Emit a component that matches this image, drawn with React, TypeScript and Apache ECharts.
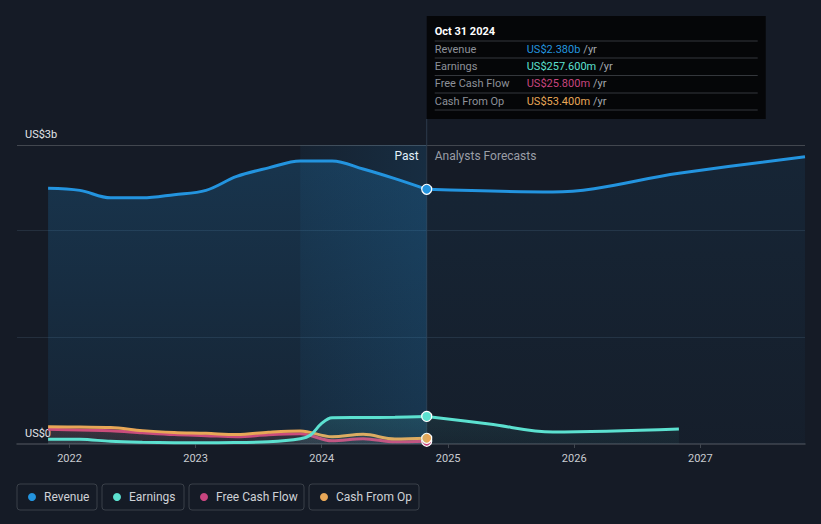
import React, { useEffect, useRef } from 'react';
import * as echarts from 'echarts';

// ---- data (US$ billions) ----
const pastDates = ['2021-10-31', '2022-01-31', '2022-04-30', '2022-07-31', '2022-10-31', '2023-01-31', '2023-04-30', '2023-07-31', '2023-10-31', '2024-01-31', '2024-04-30', '2024-07-31', '2024-10-31'];
const revenuePast = [2.39, 2.37, 2.3, 2.3, 2.33, 2.37, 2.5, 2.58, 2.645, 2.645, 2.57, 2.48, 2.38];
const fcfPast = [0.137, 0.13, 0.124, 0.105, 0.088, 0.078, 0.068, 0.087, 0.096, 0.03, 0.05, 0.02, 0.0258];
const cfoPast = [0.162, 0.158, 0.154, 0.125, 0.108, 0.1, 0.088, 0.11, 0.122, 0.068, 0.09, 0.047, 0.0534];
const earnPastDates = ['2021-10-31', '2022-01-31', '2022-04-30', '2022-07-31', '2022-10-31', '2023-01-31', '2023-04-30', '2023-07-31', '2023-10-31', '2023-11-30', '2023-12-31', '2024-01-31', '2024-04-30', '2024-07-31', '2024-10-31'];
const earningsPast = [0.045, 0.044, 0.025, 0.016, 0.012, 0.011, 0.014, 0.02, 0.05, 0.085, 0.19, 0.245, 0.247, 0.25, 0.2576];
const revForecastDates = ['2024-10-31', '2025-10-31', '2026-10-31', '2027-10-31'];
const revenueForecast = [2.38, 2.355, 2.53, 2.685];
const earnForecastDates = ['2024-10-31', '2025-04-30', '2025-10-31', '2026-10-31'];
const earningsForecast = [0.2576, 0.187, 0.112, 0.14];
const highlightRange = ['2023-10-31', '2024-10-31'];
const xRange = ['2021-08-02', '2027-10-31'];
const yMax = 2.794;
const yLabelTop = 'US$3b';
const yLabelZero = 'US$0';
const tooltipDate = 'Oct 31 2024';
const tooltipLabels = ['Revenue', 'Earnings', 'Free Cash Flow', 'Cash From Op'];
const tooltipValues = ['US$2.380b', 'US$257.600m', 'US$25.800m', 'US$53.400m'];
const legendNames = ['Revenue', 'Earnings', 'Free Cash Flow', 'Cash From Op'];

const C_REV = '#2394df';
const C_EARN = '#5ce1d0';
const C_FCF = '#c8457f';
const C_CFO = '#e8a757';
const colors = [C_REV, C_EARN, C_FCF, C_CFO];

function rgba(hex: string, a: number) {
  const n = parseInt(hex.slice(1), 16);
  return `rgba(${(n >> 16) & 255},${(n >> 8) & 255},${n & 255},${a})`;
}
function grad(hex: string, a0: number, a1: number) {
  return new echarts.graphic.LinearGradient(0, 0, 0, 1, [
    { offset: 0, color: rgba(hex, a0) },
    { offset: 1, color: rgba(hex, a1) },
  ]);
}
function pts(dates: string[], vals: number[], markLast: boolean) {
  return dates.map((d, i) => ({
    value: [d, vals[i]],
    symbol: markLast && i === dates.length - 1 ? 'circle' : 'none',
    symbolSize: 10,
  }));
}
function lineSeries(name: string, color: string, data: any[], a0: number, a1: number, z: number) {
  return {
    type: 'line',
    name,
    data,
    smooth: 0.35,
    showSymbol: true,
    symbol: 'none',
    z,
    lineStyle: { width: 3, color },
    itemStyle: { color, borderColor: '#ffffff', borderWidth: 1.2 },
    areaStyle: { color: grad(color, a0, a1), origin: 'start' },
    emphasis: { disabled: true },
  };
}

export default function App() {
  const ref = useRef<HTMLDivElement>(null);
  useEffect(() => {
    if (!ref.current) return;
    const chart = echarts.init(ref.current, null, { renderer: 'svg' });
    const font = 'Roboto, sans-serif';
    chart.setOption({
      animation: false,
      backgroundColor: '#151b26',
      textStyle: { fontFamily: font },
      grid: { left: 17, right: 16, top: 145, bottom: 80 },
      xAxis: {
        type: 'time',
        min: xRange[0],
        max: xRange[1],
        minInterval: 365 * 864e5,
        splitLine: { show: false },
        axisLine: { lineStyle: { color: '#40464f', width: 1.5 } },
        axisTick: { show: true, length: 4, lineStyle: { color: '#40464f' } },
        axisLabel: {
          color: '#c9ccd1',
          fontSize: 11,
          margin: 9,
          formatter: (v: number) => String(new Date(v).getFullYear()),
        },
      },
      yAxis: {
        type: 'value',
        min: 0,
        max: yMax,
        interval: 1,
        axisLine: { show: false },
        axisTick: { show: false },
        splitLine: {
          lineStyle: { color: ['rgba(0,0,0,0)', '#242f3d', '#242f3d', '#42474f'], width: 1 },
        },
        axisLabel: {
          inside: true,
          showMinLabel: true,
          showMaxLabel: true,
          margin: 8,
          align: 'left',
          verticalAlign: 'bottom',
          padding: [0, 0, 5, 0],
          color: '#e2e4e8',
          fontSize: 11,
          formatter: (v: number) => (v === 0 ? yLabelZero : v > 2.7 ? yLabelTop : ''),
        },
      },
      series: [
        {
          type: 'line',
          data: [],
          markArea: {
            silent: true,
            itemStyle: {
              color: new echarts.graphic.LinearGradient(0, 0, 1, 0, [
                { offset: 0, color: rgba(C_REV, 0.06) },
                { offset: 1, color: rgba(C_REV, 0.15) },
              ]),
            },
            data: [[{ xAxis: highlightRange[0] }, { xAxis: highlightRange[1] }]],
          },
        },
        lineSeries('Revenue', C_REV, pts(revForecastDates, revenueForecast, false), 0.12, 0.04, 2),
        lineSeries('Revenue', C_REV, pts(pastDates, revenuePast, true), 0.3, 0.1, 3),
        lineSeries('Earnings', C_EARN, pts(earnForecastDates, earningsForecast, false), 0.12, 0.06, 4),
        lineSeries('Free Cash Flow', C_FCF, pts(pastDates, fcfPast, true), 0.14, 0.08, 5),
        lineSeries('Cash From Op', C_CFO, pts(pastDates, cfoPast, true), 0.14, 0.08, 6),
        lineSeries('Earnings', C_EARN, pts(earnPastDates, earningsPast, true), 0.18, 0.1, 7),
      ],
    });

    const px = chart.convertToPixel({ xAxisIndex: 0 }, highlightRange[1] as any) as number;
    const y0 = chart.convertToPixel({ yAxisIndex: 0 }, 0) as number;

    const ttW = 339;
    const rowY = [49, 66, 83.5, 101];
    const sepY = [41, 58, 75.5, 93, 110];
    const tooltipChildren: any[] = [
      { type: 'rect', shape: { x: 0, y: 0, width: ttW, height: 103 }, style: { fill: '#050608' } },
      {
        type: 'text',
        x: 8,
        y: 15,
        style: { text: tooltipDate, fill: '#ffffff', fontSize: 11, fontWeight: 'bold', fontFamily: font, verticalAlign: 'middle' },
      },
    ];
    sepY.forEach((sy) => {
      tooltipChildren.push({
        type: 'line',
        shape: { x1: 8, y1: sy - 16, x2: ttW - 8, y2: sy - 16 },
        style: { stroke: '#34373c', lineWidth: 1 },
      });
    });
    tooltipLabels.forEach((lab, i) => {
      tooltipChildren.push({
        type: 'text',
        x: 8,
        y: rowY[i] - 16,
        style: { text: lab, fill: '#8d9199', fontSize: 11, fontFamily: font, verticalAlign: 'middle' },
      });
      tooltipChildren.push({
        type: 'text',
        x: 100,
        y: rowY[i] - 16,
        style: {
          text: `{v|${tooltipValues[i]}} {u|/yr}`,
          fontFamily: font,
          verticalAlign: 'middle',
          rich: {
            v: { fill: colors[i], fontSize: 11, fontFamily: font },
            u: { fill: '#a3a7ae', fontSize: 11, fontFamily: font },
          },
        },
      });
    });

    const legendX = [17, 102, 189, 309];
    const legendW = [80, 82, 115, 110];
    const legendEls: any[] = [];
    legendNames.forEach((n, i) => {
      legendEls.push({
        type: 'rect',
        shape: { x: legendX[i], y: 484, width: legendW[i], height: 26, r: 3 },
        style: { fill: 'none', stroke: '#3a4049', lineWidth: 1 },
      });
      legendEls.push({
        type: 'circle',
        shape: { cx: legendX[i] + 15, cy: 497, r: 4 },
        style: { fill: colors[i] },
      });
      legendEls.push({
        type: 'text',
        x: legendX[i] + 27,
        y: 497,
        style: { text: n, fill: '#cfd2d6', fontSize: 12, fontFamily: font, verticalAlign: 'middle' },
      });
    });

    chart.setOption({
      graphic: [
        {
          type: 'line',
          z: 1,
          shape: { x1: px, y1: 119, x2: px, y2: y0 },
          style: { stroke: '#2c3a4c', lineWidth: 1 },
        },
        {
          type: 'text',
          x: px - 8,
          y: 156,
          style: { text: 'Past', fill: '#ffffff', fontSize: 12, fontFamily: font, align: 'right', verticalAlign: 'middle' },
        },
        {
          type: 'text',
          x: px + 8,
          y: 156,
          style: { text: 'Analysts Forecasts', fill: '#9a9ea6', fontSize: 12, fontFamily: font, align: 'left', verticalAlign: 'middle' },
        },
        { type: 'group', x: px, y: 16, z: 100, children: tooltipChildren },
        ...legendEls,
      ],
    });

    return () => chart.dispose();
  }, []);
  return (
    <div
      ref={ref}
      style={{ position: 'fixed', left: 0, top: 0, width: 821, height: 524, background: '#151b26' }}
    />
  );
}
